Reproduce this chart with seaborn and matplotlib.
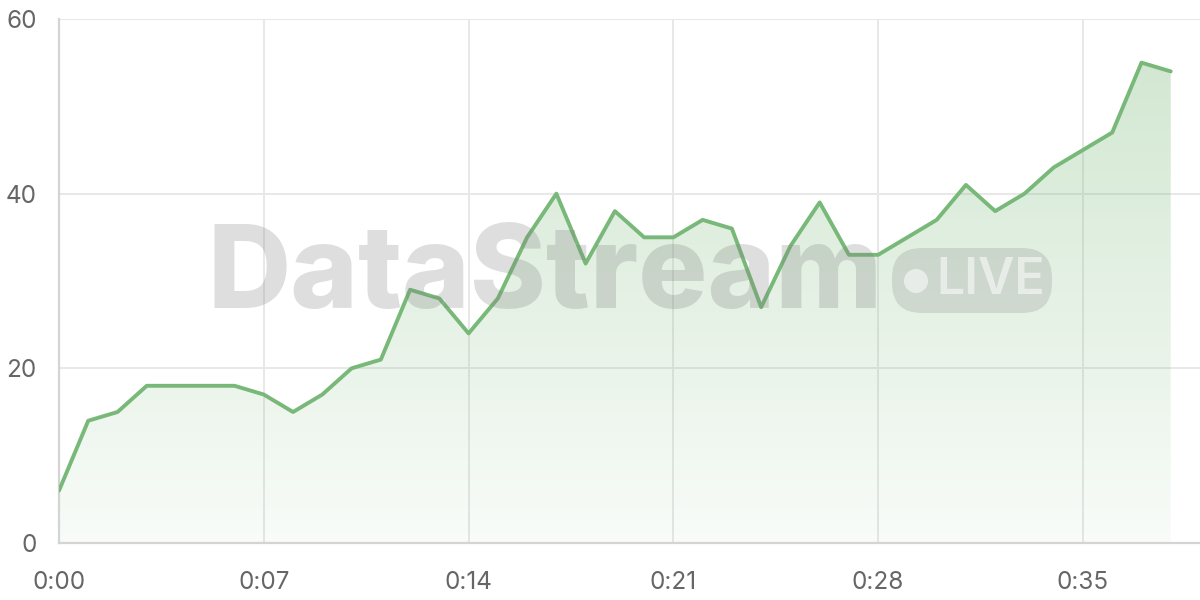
import numpy as np
import pandas as pd
import matplotlib.pyplot as plt
import seaborn as sns
from matplotlib.colors import LinearSegmentedColormap
from matplotlib.patches import FancyBboxPatch, Circle

# values, one point per minute
minutes = list(range(39))
values = [6, 14, 15, 18, 18, 18, 18, 17, 15, 17, 20, 21, 29, 28, 24, 28, 35, 40, 32, 38,
          35, 35, 37, 36, 27, 34, 39, 33, 33, 35, 37, 41, 38, 40, 43, 45, 47, 55, 54]
x_ticks = [0, 7, 14, 21, 28, 35]
x_labels = ['0:00', '0:07', '0:14', '0:21', '0:28', '0:35']
y_ticks = [0, 20, 40, 60]

df = pd.DataFrame({'minute': minutes, 'value': values})

line_color = '#78b878'
grid_color = '#e8e8e8'
text_color = '#666666'

sns.set_style('white')
plt.rcParams['font.family'] = ['Inter', 'DejaVu Sans']

fig = plt.figure(figsize=(12, 6), dpi=100)
ax = fig.add_axes([59 / 1200, 57 / 600, 1 - 59 / 1200, (543 - 19) / 600])

# gradient fill under the line
fill = ax.fill_between(df['minute'], df['value'], 0, facecolor='none', edgecolor='none')
cmap = LinearSegmentedColormap.from_list(
    'g', [(0.47, 0.72, 0.47, 0.05), (0.47, 0.72, 0.47, 0.33)])
grad = np.linspace(0, 1, 256).reshape(-1, 1)
img = ax.imshow(grad, cmap=cmap, origin='lower', aspect='auto',
                extent=(df['minute'].min(), df['minute'].max(), 0, max(values)),
                zorder=1)
img.set_clip_path(fill.get_paths()[0], transform=ax.transData)

sns.lineplot(data=df, x='minute', y='value', ax=ax, color=line_color,
             linewidth=2.8, zorder=3)

ax.set_xlim(0, 39)
ax.set_ylim(0, 60)
ax.set_xticks(x_ticks)
ax.set_xticklabels(x_labels)
ax.set_yticks(y_ticks)
ax.set_xlabel('')
ax.set_ylabel('')
ax.grid(True, color=grid_color, linewidth=1.4, zorder=0)
ax.set_axisbelow(True)
ax.tick_params(axis='both', length=11, width=1.4, color=grid_color,
               labelcolor=text_color, labelsize=17.5)
ax.tick_params(axis='x', pad=9)
ax.tick_params(axis='y', pad=5)
for side in ['top', 'right']:
    ax.spines[side].set_visible(False)
for side in ['left', 'bottom']:
    ax.spines[side].set_color('#d4d4d4')
    ax.spines[side].set_linewidth(1.6)

# watermark drawn on a transparent overlay in pixel units
over = fig.add_axes([0, 0, 1, 1], zorder=5)
over.set_xlim(0, 1200)
over.set_ylim(600, 0)
over.axis('off')
over.patch.set_alpha(0)
over.text(208, 278, 'DataStream', fontsize=83, fontweight='heavy',
          color='#808080', alpha=0.26, va='center', ha='left')
over.add_patch(FancyBboxPatch((892, 248), 160, 65,
                              boxstyle='round,pad=0,rounding_size=30',
                              facecolor='#808080', alpha=0.22, edgecolor='none'))
over.add_patch(Circle((916, 281), 12, facecolor='white', alpha=0.55, edgecolor='none'))
over.text(936, 281, 'LIVE', fontsize=36, fontweight='semibold',
          color='white', alpha=0.55, va='center', ha='left')

plt.savefig('out.png', dpi=100)
plt.close()
